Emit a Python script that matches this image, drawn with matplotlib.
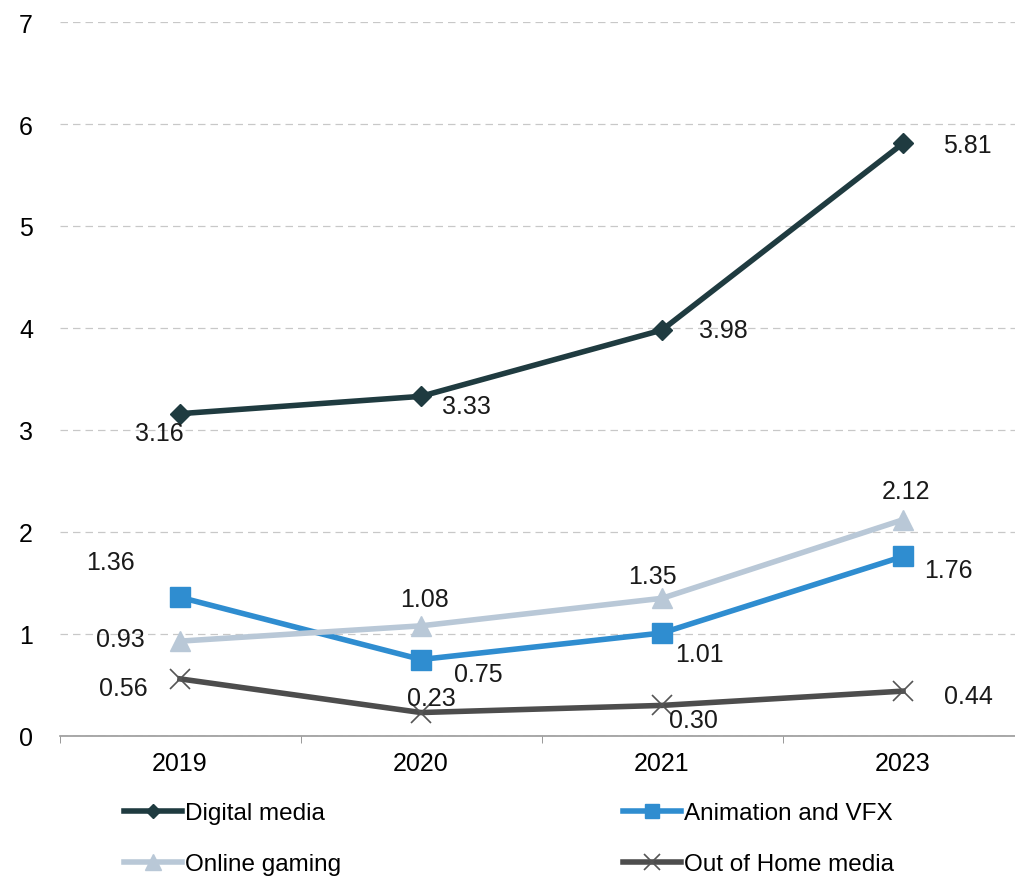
import matplotlib
matplotlib.use('Agg')
import matplotlib.pyplot as plt

plt.rcParams['font.family'] = ['Liberation Sans', 'DejaVu Sans']

# 数据
years = ["2019", "2020", "2021", "2023"]
digital_media = [3.16, 3.33, 3.98, 5.81]
animation_vfx = [1.36, 0.75, 1.01, 1.76]
online_gaming = [0.93, 1.08, 1.35, 2.12]
ooh_media = [0.56, 0.23, 0.30, 0.44]

# 每个数据标签相对点的偏移（像素）
digital_off = [(-21, -19), (45, -10), (61, 0), (64, -2)]
anim_off = [(-70, 35), (57, -15), (37, -21), (45, -14)]
gaming_off = [(-60, 2), (4, 27), (-10, 22), (3, 29)]
ooh_off = [(-57, -9), (10, 15), (31, -15), (65, -5)]

fig = plt.figure(figsize=(10.15, 8.78), dpi=100)
ax = fig.add_axes([59.5 / 1015, 141 / 878, 964 / 1015, 714 / 878])

x = list(range(len(years)))

series = [
    ("Digital media", digital_media, digital_off, '#1f3b40', 'D', 10),
    ("Animation and VFX", animation_vfx, anim_off, '#2f8dd0', 's', 14),
    ("Online gaming", online_gaming, gaming_off, '#b9c8d7', '^', 15),
    ("Out of Home media", ooh_media, ooh_off, '#4d4d4d', 'x', 15),
]

for name, vals, offs, color, marker, ms in series:
    if marker == 'x':
        ax.plot(x, vals, color=color, lw=4, marker='x', ms=ms,
                mew=1.2, mec='#555555', label=name, zorder=3)
    else:
        ax.plot(x, vals, color=color, lw=4, marker=marker, ms=ms,
                mec=color, label=name, zorder=3)
    for xi, v, (dx, dy) in zip(x, vals, offs):
        ax.annotate(f"{v:.2f}", (xi, v), xytext=(dx, dy),
                    textcoords='offset pixels', ha='center', va='center',
                    fontsize=18, color='#1a1a1a', zorder=4)

ax.set_xlim(-0.5, 3.5)
ax.set_ylim(0, 7)
ax.set_yticks(range(0, 8))
ax.yaxis.grid(True, linestyle=(0, (6, 4)), color='#c8c8c8', lw=0.9)
ax.set_axisbelow(True)

ax.set_xticks(x)
ax.set_xticklabels(years)
ax.set_xticks([-0.5, 0.5, 1.5, 2.5, 3.5], minor=True)
ax.tick_params(axis='x', which='major', length=0, pad=11, labelsize=18)
ax.tick_params(axis='x', which='minor', length=5, color='#888888', direction='out')
ax.tick_params(axis='y', length=0, pad=19, labelsize=18)

for side in ['top', 'right', 'left']:
    ax.spines[side].set_visible(False)
ax.spines['bottom'].set_color('#999999')
ax.spines['bottom'].set_linewidth(1.2)

# 图例（两列，放在坐标轴下方）
handles, labels = ax.get_legend_handles_labels()
order = [0, 2, 1, 3]
fig.legend([handles[i] for i in order], [labels[i] for i in order],
           ncol=2, loc='upper left', bbox_to_anchor=(112 / 1015, 1 - 791 / 878),
           frameon=False, fontsize=17.5, handlelength=2.4, handletextpad=0.1,
           columnspacing=11.6, labelspacing=1.2, borderpad=0, markerscale=0.75)

fig.savefig("out.png", dpi=100)
